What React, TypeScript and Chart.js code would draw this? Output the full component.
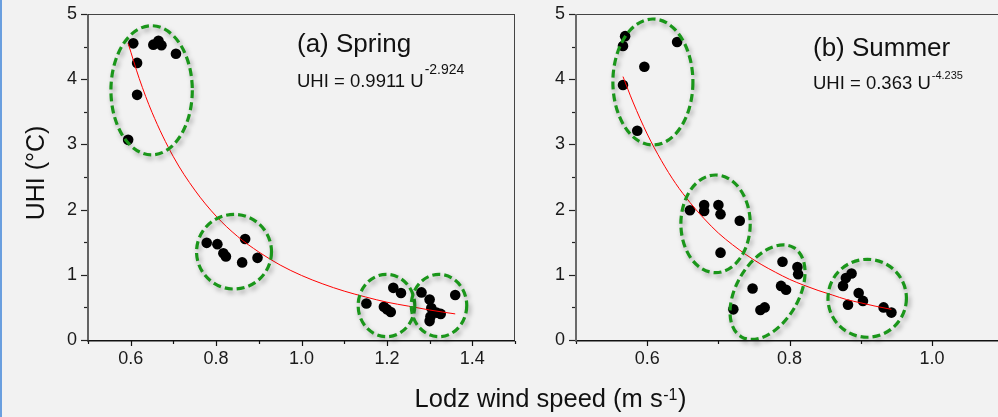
import React, { useEffect, useRef } from 'react';
import { Chart, registerables } from 'chart.js';

Chart.register(...registerables);

const FONT = '"Liberation Sans", Arial, Helvetica, sans-serif';

// ---------- Data ----------
const springWind = [0.606, 0.653, 0.665, 0.672, 0.706, 0.615, 0.615, 0.594,
  0.778, 0.803, 0.817, 0.823, 0.868, 0.861, 0.897,
  1.152, 1.215, 1.233, 1.193, 1.200, 1.209,
  1.281, 1.300, 1.360, 1.304, 1.316, 1.326, 1.302, 1.300];
const springUHI = [4.55, 4.53, 4.59, 4.52, 4.39, 4.25, 3.76, 3.07,
  1.49, 1.47, 1.33, 1.28, 1.55, 1.19, 1.26,
  0.56, 0.80, 0.72, 0.51, 0.47, 0.43,
  0.73, 0.62, 0.69, 0.49, 0.42, 0.40, 0.36, 0.29];

const summerWind = [0.569, 0.566, 0.642, 0.596, 0.566, 0.586,
  0.660, 0.680, 0.680, 0.700, 0.703, 0.730, 0.703,
  0.721, 0.748, 0.759, 0.765, 0.790, 0.788, 0.795, 0.811, 0.812,
  0.875, 0.879, 0.887, 0.897, 0.903, 0.882, 0.932, 0.943];
const summerUHI = [4.66, 4.51, 4.57, 4.19, 3.91, 3.21,
  1.99, 2.07, 1.98, 2.07, 1.93, 1.83, 1.34,
  0.47, 0.79, 0.46, 0.50, 1.20, 0.83, 0.77, 1.12, 1.01,
  0.83, 0.95, 1.02, 0.72, 0.60, 0.54, 0.50, 0.42];

// fitted power-law curves
const springFitWind = [0.594, 0.62, 0.65, 0.7, 0.75, 0.8, 0.85, 0.9, 0.95, 1.0, 1.05, 1.1, 1.15, 1.2, 1.25, 1.3, 1.36];
const springFitUHI = [4.55, 4.01, 3.49, 2.81, 2.30, 1.90, 1.59, 1.35, 1.15, 0.99, 0.86, 0.75, 0.66, 0.58, 0.52, 0.46, 0.40];
const summerFitWind = [0.566, 0.58, 0.6, 0.62, 0.64, 0.66, 0.68, 0.7, 0.72, 0.74, 0.76, 0.78, 0.8, 0.82, 0.84, 0.86, 0.88, 0.9, 0.92, 0.943];
const summerFitUHI = [4.04, 3.65, 3.16, 2.75, 2.40, 2.11, 1.86, 1.64, 1.46, 1.30, 1.16, 1.04, 0.93, 0.84, 0.76, 0.69, 0.62, 0.57, 0.52, 0.47];

// cluster outlines (data units, rotation in degrees)
const springClusters = [
  { cx: 0.649, cy: 3.83, rx: 0.0953, ry: 0.99, rot: 0 },
  { cx: 0.842, cy: 1.354, rx: 0.0878, ry: 0.572, rot: 0 },
  { cx: 1.199, cy: 0.529, rx: 0.0663, ry: 0.478, rot: 0 },
  { cx: 1.322, cy: 0.529, rx: 0.065, ry: 0.478, rot: 0 },
];
const summerClusters = [
  { cx: 0.608, cy: 3.957, rx: 0.0562, ry: 0.966, rot: 0 },
  { cx: 0.696, cy: 1.782, rx: 0.0487, ry: 0.749, rot: 0 },
  { cx: 0.769, cy: 0.733, rx: 0.0437, ry: 0.793, rot: 30.5 },
  { cx: 0.909, cy: 0.640, rx: 0.0551, ry: 0.598, rot: 0 },
];

const yTickLabels = ['0', '1', '2', '3', '4', '5'];
const xLabelStep = 0.2;

const springTitle = '(a) Spring';
const springEq = 'UHI = 0.9911 U';
const springExp = '-2.924';
const summerTitle = '(b) Summer';
const summerEq = 'UHI = 0.363 U';
const summerExp = '-4.235';
const yAxisTitle = 'UHI (°C)';
const xAxisTitleMain = 'Lodz wind speed (m s';
const xAxisTitleSup = '-1';
const xAxisTitleEnd = ')';

// ---------- helpers ----------
const toPts = (xs: number[], ys: number[]) => xs.map((x, i) => ({ x, y: ys[i] }));

type PanelCfg = {
  wind: number[]; uhi: number[]; fitX: number[]; fitY: number[];
  clusters: { cx: number; cy: number; rx: number; ry: number; rot: number }[];
  xMax: number; padRight: number; yAxisWidth: number;
  title: string; eq: string; exp: string;
  titleDx: number; titleDy: number; eqDy: number; expDy: number;
  eqSize: number; expSize: number;
  yAxisColor: string; yAxisWidthLine: number;
  drawAxisTitles: boolean;
};

function panelPlugin(p: PanelCfg) {
  return {
    id: 'panelDecor',
    afterDatasetsDraw(chart: any) {
      const { ctx, scales } = chart;
      const x = scales.x, y = scales.y;
      p.clusters.forEach((e) => {
        const cx = x.getPixelForValue(e.cx);
        const cy = y.getPixelForValue(e.cy);
        const rx = Math.abs(x.getPixelForValue(e.cx + e.rx) - cx);
        const ry = Math.abs(y.getPixelForValue(e.cy + e.ry) - cy);
        ctx.save();
        ctx.shadowColor = 'rgba(0,0,0,0.35)';
        ctx.shadowBlur = 5;
        ctx.shadowOffsetX = 2;
        ctx.shadowOffsetY = 3;
        ctx.beginPath();
        ctx.ellipse(cx, cy, rx, ry, (e.rot * Math.PI) / 180, 0, Math.PI * 2);
        ctx.setLineDash([8, 4]);
        ctx.lineWidth = 3.2;
        ctx.strokeStyle = '#1a961a';
        ctx.stroke();
        ctx.restore();
      });
    },
    afterDraw(chart: any) {
      const { ctx, chartArea: a, scales } = chart;
      const x = scales.x, y = scales.y;
      ctx.save();
      // frame
      ctx.lineCap = 'butt';
      ctx.strokeStyle = '#444';
      ctx.lineWidth = 1;
      ctx.beginPath();
      ctx.moveTo(a.left, a.top + 0.5);
      ctx.lineTo(a.right, a.top + 0.5);
      ctx.moveTo(a.right - 0.5, a.top);
      ctx.lineTo(a.right - 0.5, a.bottom);
      ctx.stroke();
      // x axis
      ctx.strokeStyle = '#111';
      ctx.lineWidth = 1.5;
      ctx.beginPath();
      ctx.moveTo(a.left - 1, a.bottom + 0.75);
      ctx.lineTo(a.right, a.bottom + 0.75);
      ctx.stroke();
      // x ticks
      ctx.lineWidth = 1.2;
      const nX = Math.round((p.xMax - 0.5) / 0.1);
      for (let i = 0; i <= nX; i++) {
        const v = 0.5 + i * 0.1;
        const px = Math.round(x.getPixelForValue(v)) + 0.5;
        const major = Math.round(v * 10) % 2 === 0;
        ctx.beginPath();
        ctx.moveTo(px, a.bottom + 1);
        ctx.lineTo(px, a.bottom + 1 + (major ? 5 : 3));
        ctx.stroke();
      }
      // y axis
      ctx.strokeStyle = p.yAxisColor;
      ctx.lineWidth = p.yAxisWidthLine;
      ctx.beginPath();
      ctx.moveTo(a.left, a.top);
      ctx.lineTo(a.left, a.bottom + 1.5);
      ctx.stroke();
      ctx.strokeStyle = '#222';
      ctx.lineWidth = 1.2;
      for (let i = 0; i <= 10; i++) {
        const v = i * 0.5;
        const py = Math.round(y.getPixelForValue(v)) + 0.5;
        const major = i % 2 === 0;
        ctx.beginPath();
        ctx.moveTo(a.left - 1, py);
        ctx.lineTo(a.left - 1 - (major ? 6 : 3), py);
        ctx.stroke();
      }
      // panel texts
      ctx.fillStyle = '#111';
      ctx.textBaseline = 'alphabetic';
      ctx.textAlign = 'left';
      const tx = a.left + p.titleDx;
      ctx.font = `26px ${FONT}`;
      ctx.fillText(p.title, tx, a.top + p.titleDy);
      ctx.font = `${p.eqSize}px ${FONT}`;
      ctx.fillText(p.eq, tx, a.top + p.eqDy);
      const w = ctx.measureText(p.eq).width;
      ctx.font = `${p.expSize}px ${FONT}`;
      ctx.fillText(p.exp, tx + w + 1, a.top + p.expDy);

      if (p.drawAxisTitles) {
        // y title
        ctx.save();
        ctx.font = `25px ${FONT}`;
        ctx.translate(44, 173);
        ctx.rotate(-Math.PI / 2);
        ctx.textAlign = 'center';
        ctx.fillText(yAxisTitle, 0, 0);
        ctx.restore();
        // x title with superscript
        ctx.font = `25.5px ${FONT}`;
        const w1 = ctx.measureText(xAxisTitleMain).width;
        const w3 = ctx.measureText(xAxisTitleEnd).width;
        ctx.font = `16px ${FONT}`;
        const w2 = ctx.measureText(xAxisTitleSup).width;
        const total = w1 + w2 + w3 + 1;
        let sx = 550.5 - total / 2;
        ctx.textAlign = 'left';
        ctx.font = `25.5px ${FONT}`;
        ctx.fillText(xAxisTitleMain, sx, 407);
        sx += w1 + 0.5;
        ctx.font = `16px ${FONT}`;
        ctx.fillText(xAxisTitleSup, sx, 400);
        sx += w2 + 0.5;
        ctx.font = `25.5px ${FONT}`;
        ctx.fillText(xAxisTitleEnd, sx, 407);
      }
      ctx.restore();
    },
  };
}

function makeConfig(p: PanelCfg): any {
  return {
    type: 'scatter',
    data: {
      datasets: [
        {
          data: toPts(p.fitX, p.fitY),
          showLine: true,
          borderColor: '#ff0000',
          backgroundColor: '#ff0000',
          borderWidth: 1,
          pointRadius: 0,
          cubicInterpolationMode: 'monotone',
          fill: false,
          order: 0,
        },
        {
          data: toPts(p.wind, p.uhi),
          pointRadius: 5.3,
          pointBorderWidth: 0,
          pointBackgroundColor: '#000',
          backgroundColor: '#000',
          borderColor: '#000',
          order: 1,
        },
      ],
    },
    options: {
      animation: false,
      responsive: false,
      devicePixelRatio: 1,
      events: [],
      layout: { padding: { left: 0, top: 14, right: p.padRight, bottom: 0 } },
      plugins: { legend: { display: false }, tooltip: { enabled: false } },
      scales: {
        x: {
          type: 'linear',
          min: 0.5,
          max: p.xMax,
          afterFit: (s: any) => { s.height = 77; s.paddingLeft = 0; s.paddingRight = 0; },
          grid: { display: false, drawTicks: false },
          border: { display: false },
          ticks: {
            stepSize: 0.1,
            autoSkip: false,
            maxRotation: 0,
            minRotation: 0,
            padding: 8,
            color: '#1a1a1a',
            font: { family: FONT, size: 18 },
            callback: (v: number) => {
              const t = Math.round(v * 10);
              return t % Math.round(xLabelStep * 10) === 0 ? (t / 10).toFixed(1) : '';
            },
          },
        },
        y: {
          type: 'linear',
          min: 0,
          max: 5,
          afterFit: (s: any) => { s.width = p.yAxisWidth; s.paddingTop = 0; s.paddingBottom = 0; },
          grid: { display: false, drawTicks: false },
          border: { display: false },
          ticks: {
            stepSize: 1,
            autoSkip: false,
            padding: 11,
            color: '#1a1a1a',
            font: { family: FONT, size: 18 },
            callback: (v: number) => yTickLabels[Math.round(v)] ?? '',
          },
        },
      },
    },
    plugins: [panelPlugin(p)],
  };
}

export default function App() {
  const leftRef = useRef<HTMLCanvasElement>(null);
  const rightRef = useRef<HTMLCanvasElement>(null);

  useEffect(() => {
    const spring: PanelCfg = {
      wind: springWind, uhi: springUHI, fitX: springFitWind, fitY: springFitUHI,
      clusters: springClusters, xMax: 1.5, padRight: 998 - 515, yAxisWidth: 88,
      title: springTitle, eq: springEq, exp: springExp,
      titleDx: 209, titleDy: 38, eqDy: 73, expDy: 60, eqSize: 18.5, expSize: 14,
      yAxisColor: '#333', yAxisWidthLine: 1.5, drawAxisTitles: true,
    };
    const summer: PanelCfg = {
      wind: summerWind, uhi: summerUHI, fitX: summerFitWind, fitY: summerFitUHI,
      clusters: summerClusters, xMax: 1.1, padRight: 470 - 36 - 427.2, yAxisWidth: 36,
      title: summerTitle, eq: summerEq, exp: summerExp,
      titleDx: 237, titleDy: 42, eqDy: 75, expDy: 65, eqSize: 18.5, expSize: 11,
      yAxisColor: '#6a6a6a', yAxisWidthLine: 2, drawAxisTitles: false,
    };
    const c1 = new Chart(leftRef.current as HTMLCanvasElement, makeConfig(spring));
    const c2 = new Chart(rightRef.current as HTMLCanvasElement, makeConfig(summer));
    return () => { c1.destroy(); c2.destroy(); };
  }, []);

  return (
    <div style={{ position: 'absolute', left: 0, top: 0, width: 998, height: 417, overflow: 'hidden', background: '#f2f2f2' }}>
      <div style={{ position: 'absolute', left: 0, top: 0, width: 2, height: 417, background: '#6a9fdf' }} />
      <canvas ref={leftRef} width={998} height={417} style={{ position: 'absolute', left: 0, top: 0 }} />
      <canvas ref={rightRef} width={470} height={417} style={{ position: 'absolute', left: 540, top: 0 }} />
    </div>
  );
}
